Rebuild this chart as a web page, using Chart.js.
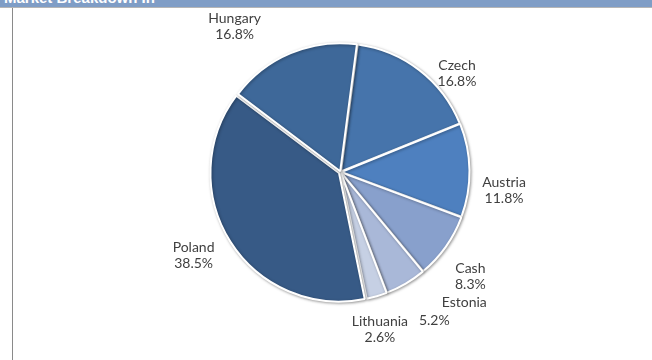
<!DOCTYPE html>
<html>
<head>
<meta charset="utf-8">
<script src="https://cdn.jsdelivr.net/npm/chart.js@4.4.1/dist/chart.umd.min.js"></script>
<style>
  html, body { margin: 0; padding: 0; background: #fff; }
  body { width: 652px; height: 360px; position: relative; overflow: hidden; font-family: Lato, "Open Sans", sans-serif; }
  #bar { position: absolute; left: 0; top: 0; width: 652px; height: 7px; background: #7f9dc6; overflow: hidden; }
  #bar span { position: absolute; left: 4px; top: -11px; color: #fff; font: bold 15px Arial, "Liberation Sans", sans-serif; }
  #rule { position: absolute; left: 0; top: 7px; width: 652px; height: 1px; background: #b5b5b5; }
  #panel { position: absolute; left: 12px; top: 8px; width: 640px; height: 352px; border-left: 1px solid #8a8a8a; }
  #panel canvas { position: absolute; left: 0; top: 0; }
</style>
</head>
<body>
<div id="bar"><span>Market Breakdown In</span></div>
<div id="rule"></div>
<div id="panel"><canvas id="chart-pie" width="639" height="352"></canvas></div>
<script>
document.addEventListener("DOMContentLoaded", function() {

    // Dati (senso orario partendo da Czech)
    const labels = ['Czech', 'Austria', 'Cash', 'Estonia', 'Lithuania', 'Poland', 'Hungary'];
    const quote = [16.8, 11.8, 8.3, 5.2, 2.6, 38.5, 16.8];
    const colori = ['#4674ab', '#4e80bf', '#88a0cc', '#a9b8d8', '#c6d0e4', '#375a86', '#3e6899'];

    // Spostamenti delle etichette per imitare Excel: [gradi, distanza, dx, dy]
    const aggiusta = {
        Czech: [9, -2, 0, 11], Austria: [5, 2, 0, 6], Cash: [2, 4, -2, 4], Estonia: [-11, 21, 3, 1],
        Lithuania: [2, -2, 0, 2], Poland: [3, 3, -3, 3], Hungary: [-16, 12, 3, -10]
    };

    // Ombra grigia attorno agli spicchi
    const ombra = {
        id: 'ombra',
        beforeDatasetsDraw(chart) {
            const ctx = chart.ctx;
            ctx.save();
            ctx.shadowColor = 'rgba(0,0,0,0.35)';
            ctx.shadowBlur = 3;
            ctx.shadowOffsetX = 1;
            ctx.shadowOffsetY = 1;
        },
        afterDatasetsDraw(chart) {
            chart.ctx.restore();
        }
    };

    // Etichette esterne: nome + percentuale
    const etichette = {
        id: 'etichette',
        afterDraw(chart) {
            const ctx = chart.ctx;
            const meta = chart.getDatasetMeta(0);
            ctx.save();
            ctx.fillStyle = '#404040';
            ctx.font = '14px Lato, "Open Sans", sans-serif';
            ctx.textAlign = 'center';
            ctx.textBaseline = 'middle';
            meta.data.forEach((arc, i) => {
                const nome = labels[i];
                const adj = aggiusta[nome] || [0, 0, 0, 0];
                const mid = (arc.startAngle + arc.endAngle) / 2 + adj[0] * Math.PI / 180;
                const r = arc.outerRadius + 34 + adj[1];
                const x = arc.x + Math.cos(mid) * r + adj[2];
                const y = arc.y + Math.sin(mid) * r + adj[3];
                const testo = quote[i].toFixed(1) + '%';
                if (nome === 'Estonia') {
                    // in Excel la percentuale finisce accanto a Lithuania
                    ctx.fillText(nome, x, y - 8);
                    ctx.fillText(testo, x - 30, y + 10);
                } else {
                    ctx.fillText(nome, x, y - 8);
                    ctx.fillText(testo, x, y + 8);
                }
            });
            ctx.restore();
        }
    };

    const ctx = document.getElementById('chart-pie').getContext('2d');
    new Chart(ctx, {
        type: 'pie',
        data: {
            labels: labels,
            datasets: [{
                data: quote,
                backgroundColor: colori,
                borderColor: '#ffffff',
                borderWidth: 2,
                offset: [3, 3, 3, 3, 3, 7, 3],
                radius: 128
            }]
        },
        options: {
            responsive: false,
            animation: false,
            rotation: 7.5,
            layout: { padding: { top: 10, bottom: 34, left: 16, right: 0 } },
            plugins: {
                legend: { display: false },
                tooltip: { enabled: false }
            }
        },
        plugins: [ombra, etichette]
    });
});
</script>
</body>
</html>
